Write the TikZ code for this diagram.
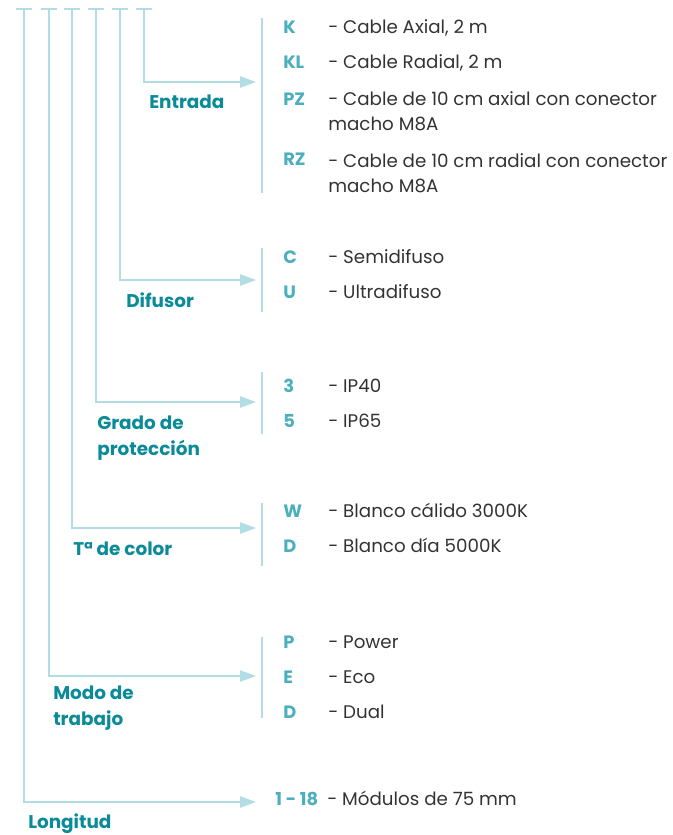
\documentclass[tikz,border=0pt]{standalone}
\usepackage{fontspec}
\setmainfont{Poppins}
\usetikzlibrary{arrows.meta}
\definecolor{cLine}{HTML}{B3DDE4}
\definecolor{cHead}{HTML}{0B8B98}
\definecolor{cCode}{HTML}{4BAFBD}
\definecolor{cText}{HTML}{333333}

\begin{document}
\begin{tikzpicture}[x=0.75pt, y=-0.75pt,
  link/.style={draw=cLine, line width=1.1pt,
               -{Triangle[length=12pt, width=8.5pt]}},
  tick/.style={draw=cLine, line width=1.1pt},
  brace/.style={draw=cLine, line width=1.1pt},
  head/.style={font=\fontsize{13.8}{19.5}\selectfont\bfseries, text=cHead,
               anchor=base west, inner sep=0pt, align=left},
  code/.style={font=\fontsize{13.4}{18.75}\selectfont\bfseries, text=cCode,
               anchor=base west, inner sep=0pt},
  desc/.style={font=\fontsize{13.7}{18.75}\selectfont, text=cText,
               anchor=base west, inner sep=0pt, align=left},
]
  \useasboundingbox (0,0) rectangle (673,835);

  % stems from the top ticks, bent to the option lists
  \foreach \x/\y/\n in {24/802/lon, 49/676/mod, 72/528/tem, 96/402/gra, 120/280/dif, 144/82/ent} {
    \coordinate (top-\n) at (\x, 9);
    \coordinate (bend-\n) at (\x, \y);
    \coordinate (tip-\n) at (256, \y);
    \draw[tick] ([xshift=-6pt]top-\n) -- ([xshift=6pt]top-\n);
    \draw[link] (top-\n) -- (bend-\n) -- (tip-\n);
  }

  % brackets in front of the lists
  \foreach \a/\b in {18/193, 248/312, 372/434, 503/566, 637/718} {
    \draw[brace] (262, \a) -- (262, \b);
  }

  % group names (base = last line)
  \node[head] (hEnt) at (149, 108) {Entrada};
  \node[head] (hDif) at (126, 307) {Difusor};
  \node[head] (hGra) at (97, 455) {Grado de\\protección};
  \node[head] (hTem) at (73, 555) {Tª de color};
  \node[head] (hMod) at (53, 725) {Modo de\\trabajo};
  \node[head] (hLon) at (28, 828) {Longitud};

  % codes and their meaning
  \foreach \y/\yd/\c/\d/\n in {33/33/K/{- Cable Axial, 2 m}/k,
                           68/68/KL/{- Cable Radial, 2 m}/kl,
                           105/130/PZ/{- Cable de 10 cm axial con conector\\macho M8A}/pz,
                           165/192/RZ/{- Cable de 10 cm radial con conector\\macho M8A}/rz,
                           263/263/C/{- Semidifuso}/c,
                           298/298/U/{- Ultradifuso}/u,
                           392/392/3/{- IP40}/ip3,
                           427/427/5/{- IP65}/ip5,
                           517/517/W/{- Blanco cálido 3000K}/w,
                           552/552/D/{- Blanco día 5000K}/dd,
                           648/648/P/{- Power}/p,
                           683/683/E/{- Eco}/e,
                           718/718/D/{- Dual}/du} {
    \node[code] (c-\n) at (283, \y) {\c};
    \node[desc] (d-\n) at (328, \yd) {\d};
  }
  \node[code] (c-len) at (275, 805) {1 - 18};
  \node[desc] (d-len) at (327, 805) {- Módulos de 75 mm};
\end{tikzpicture}
\end{document}
